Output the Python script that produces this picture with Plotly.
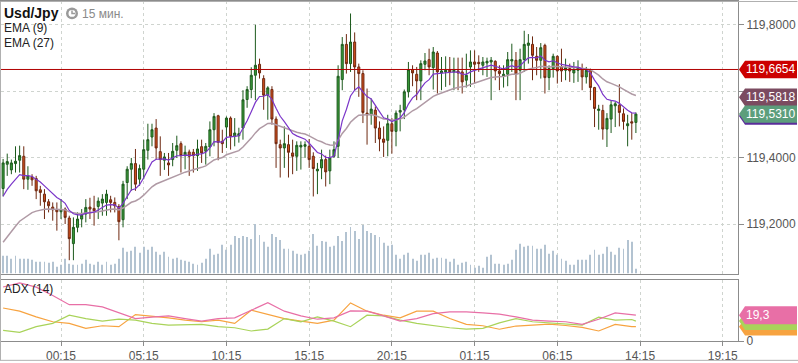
import plotly.graph_objects as go

# ---------------- data ----------------
opens = [119.307,119.380,119.363,119.382,119.392,119.404,119.335,119.342,119.337,119.303,
         119.290,119.267,119.251,119.243,119.237,119.245,119.218,119.141,119.190,119.215,
         119.230,119.251,119.247,119.253,119.263,119.265,119.273,119.265,119.253,119.213,
         119.325,119.365,119.382,119.335,119.365,119.422,119.462,119.489,119.418,119.392,
         119.384,119.394,119.422,119.442,119.406,119.417,119.416,119.406,119.433,119.419,
         119.432,119.484,119.526,119.449,119.492,119.519,119.464,119.466,119.489,119.575,
         119.605,119.648,119.681,119.638,119.588,119.605,119.516,119.439,119.429,119.439,
         119.414,119.404,119.432,119.434,119.434,119.404,119.360,119.369,119.394,119.360,
         119.404,119.434,119.635,119.741,119.683,119.748,119.673,119.653,119.534,119.529,
         119.543,119.489,119.456,119.452,119.502,119.479,119.537,119.544,119.598,119.665,
         119.651,119.631,119.681,119.695,119.671,119.715,119.655,119.658,119.665,119.658,
         119.661,119.658,119.633,119.673,119.688,119.687,119.678,119.685,119.688,119.690,
         119.661,119.645,119.651,119.691,119.693,119.663,119.695,119.738,119.741,119.705,
         119.693,119.738,119.641,119.668,119.705,119.673,119.663,119.668,119.655,119.663,
         119.668,119.643,119.663,119.611,119.542,119.542,119.486,119.516,119.556,119.558,
         119.532,119.496,119.508,119.506]
highs = [119.396,119.412,119.394,119.434,119.436,119.434,119.374,119.350,119.345,119.315,
         119.305,119.275,119.265,119.265,119.275,119.250,119.225,119.220,119.235,119.245,
         119.275,119.279,119.285,119.280,119.290,119.303,119.285,119.280,119.260,119.330,
         119.374,119.399,119.426,119.379,119.454,119.502,119.502,119.516,119.464,119.414,
         119.414,119.444,119.466,119.449,119.436,119.424,119.426,119.454,119.454,119.444,
         119.509,119.534,119.529,119.484,119.524,119.524,119.519,119.490,119.603,119.615,
         119.672,119.800,119.698,119.648,119.615,119.615,119.524,119.454,119.494,119.469,
         119.454,119.449,119.449,119.449,119.456,119.416,119.384,119.424,119.406,119.424,
         119.449,119.678,119.763,119.772,119.834,119.777,119.683,119.663,119.608,119.578,
         119.554,119.509,119.494,119.529,119.519,119.542,119.559,119.605,119.688,119.678,
         119.673,119.693,119.715,119.728,119.733,119.721,119.703,119.705,119.703,119.701,
         119.701,119.701,119.713,119.723,119.723,119.708,119.703,119.701,119.703,119.693,
         119.678,119.678,119.718,119.743,119.718,119.728,119.782,119.772,119.765,119.733,
         119.745,119.743,119.678,119.713,119.708,119.728,119.698,119.683,119.688,119.693,
         119.683,119.673,119.668,119.613,119.559,119.559,119.534,119.573,119.568,119.621,
         119.548,119.529,119.534,119.536]
lows = [119.283,119.345,119.350,119.355,119.355,119.305,119.303,119.315,119.275,119.255,
        119.215,119.235,119.210,119.180,119.215,119.200,119.091,119.091,119.175,119.190,
        119.205,119.215,119.195,119.215,119.225,119.225,119.235,119.235,119.151,119.190,
        119.275,119.300,119.300,119.315,119.335,119.394,119.434,119.394,119.345,119.363,
        119.345,119.374,119.399,119.355,119.365,119.345,119.355,119.360,119.384,119.379,
        119.404,119.434,119.392,119.414,119.429,119.424,119.434,119.445,119.454,119.550,
        119.579,119.573,119.638,119.544,119.514,119.499,119.369,119.340,119.369,119.340,
        119.350,119.360,119.364,119.399,119.369,119.283,119.290,119.335,119.313,119.320,
        119.399,119.399,119.603,119.653,119.658,119.603,119.583,119.504,119.439,119.499,
        119.444,119.419,119.402,119.404,119.412,119.434,119.479,119.516,119.581,119.615,
        119.573,119.573,119.663,119.648,119.605,119.593,119.603,119.613,119.618,119.603,
        119.603,119.593,119.611,119.613,119.623,119.658,119.648,119.643,119.573,119.633,
        119.603,119.611,119.615,119.658,119.573,119.573,119.658,119.683,119.633,119.648,
        119.638,119.593,119.603,119.641,119.623,119.628,119.633,119.628,119.625,119.628,
        119.603,119.623,119.573,119.492,119.484,119.454,119.432,119.474,119.492,119.494,
        119.484,119.434,119.454,119.474]
closes = [119.384,119.388,119.384,119.389,119.406,119.335,119.345,119.333,119.300,119.295,
          119.267,119.255,119.243,119.237,119.243,119.220,119.156,119.190,119.215,119.227,
          119.250,119.245,119.240,119.269,119.275,119.290,119.265,119.255,119.207,119.320,
          119.365,119.382,119.320,119.367,119.424,119.454,119.484,119.429,119.394,119.402,
          119.378,119.419,119.436,119.406,119.416,119.404,119.406,119.426,119.414,119.434,
          119.484,119.524,119.446,119.442,119.519,119.464,119.474,119.472,119.574,119.605,
          119.648,119.678,119.655,119.588,119.610,119.516,119.442,119.429,119.442,119.416,
          119.404,119.437,119.437,119.439,119.394,119.367,119.365,119.394,119.357,119.399,
          119.424,119.645,119.741,119.683,119.748,119.673,119.653,119.536,119.529,119.546,
          119.489,119.456,119.446,119.502,119.479,119.534,119.542,119.598,119.665,119.655,
          119.631,119.683,119.691,119.673,119.718,119.658,119.661,119.663,119.658,119.663,
          119.655,119.628,119.648,119.688,119.681,119.683,119.688,119.690,119.693,119.661,
          119.653,119.651,119.695,119.695,119.651,119.695,119.741,119.745,119.708,119.693,
          119.731,119.641,119.668,119.705,119.661,119.661,119.671,119.661,119.665,119.670,
          119.643,119.663,119.611,119.548,119.546,119.486,119.518,119.559,119.562,119.536,
          119.509,119.502,119.504,119.531]
volumes = [18,18,15,18,15,15,15,14,12,12, 12,11,12,7,9,15,10,9,9,10,
           14,10,9,12,9,12,9,10,15,26, 22,23,27,21,27,24,27,22,19,22,
           17,15,16,14,13,12,10,9,11,15, 25,19,20,29,24,29,38,36,38,37,
           35,50,39,32,27,40,37,34,25,25, 23,20,19,20,23,40,28,33,32,27,
           28,38,33,42,47,43,35,49,43,41, 39,37,31,28,29,19,15,19,21,15,
           13,19,19,21,15,16,16,15,12,15, 9,11,12,9,6,8,6,17,
           19,10,10,9,10,14,24,30,27,28, 28,25,25,29,20,23,19,15,13,9,
           9,14,14,14,19,24,19,20,27,22, 19,26,25,34,32,5]

ema9_start = 119.2835
ema27_start = 119.145

adx_idx = [0,4,8,12,16,20,24,28,32,36,40,44,48,52,56,60,64,68,72,76,
           80,84,88,92,96,100,104,108,112,116,120,124,128,132,136,140,144,148,152,153]
adx_vals = [40.4,43.5,40.3,34.1,27.2,27.2,25.5,21.0,16.8,17.8,18.8,16.8,14.9,16.8,17.3,23.0,28.7,22.3,18.8,16.3,
            17.3,22.5,22.3,18.8,14.9,16.8,20.5,21.8,21.8,21.0,20.1,18.1,15.6,14.9,14.4,12.4,16.3,21.0,19.3,19.3]
pdi_vals = [7.9,6.5,10.7,13.2,19.3,16.8,14.9,16.3,15.6,13.2,11.9,12.4,12.4,10.7,9.9,7.5,8.9,16.8,14.4,18.1,
            14.9,10.7,19.3,18.8,15.6,13.2,11.4,9.9,8.9,9.4,13.6,16.8,14.4,13.6,12.9,11.9,17.8,15.6,16.1,14.9]
mdi_vals = [24.7,22.3,18.1,14.4,13.2,9.4,11.4,10.7,19.8,18.8,17.3,15.6,14.4,15.6,13.2,23.0,20.1,16.8,14.9,13.2,
            15.6,28.5,22.3,19.3,17.3,22.3,22.3,16.8,12.4,11.4,8.8,11.2,11.9,12.6,11.6,10.2,7.5,12.4,10.7,10.7]

tick_idx = [14, 34, 54, 74, 94, 114, 134, 154, 174]
tick_labels = ["00:15", "05:15", "10:15", "15:15", "20:15", "01:15", "06:15", "14:15", "19:15"]
price_ticks = [119.2, 119.4, 119.6, 119.8]
price_tick_text = ["119,2000", "119,4000", "", "119,8000"]

ref_level = 119.6654
tag_close = 119.5310
tag_ema27 = 119.5818
tag_ema9 = 119.5255

# ---------------- derived indicator lines ----------------
idx = list(range(len(closes)))

def ema(values, period, start):
    a = 2.0 / (period + 1)
    out = [start]
    for v in values[1:]:
        out.append(out[-1] + a * (v - out[-1]))
    return out

ema9 = ema(closes, 9, ema9_start)
ema27 = ema(closes, 27, ema27_start)

# ---------------- geometry ----------------
W, H = 798, 363
ML, MR, MT, MB = 1, 60, 0, 20
PW = W - ML - MR
PH = H - MT - MB

def px_x(px):
    return (px - ML) / PW

def px_y(py):
    return (H - MB - py) / PH

FONT = "Liberation Sans, Arial, sans-serif"
GRID = "#cfd4cf"
AXL = "#8c8c8c"

fig = go.Figure()

fig.add_trace(go.Bar(x=idx, y=volumes, width=0.22, marker=dict(color="#b3c3d1", line=dict(width=0)),
                     xaxis="x", yaxis="y3", hoverinfo="skip"))
fig.add_trace(go.Scatter(x=idx, y=ema27, mode="lines", line=dict(color="#b09aa5", width=1.5),
                         xaxis="x", yaxis="y"))
fig.add_trace(go.Scatter(x=idx, y=ema9, mode="lines", line=dict(color="#7b36c9", width=1.2),
                         xaxis="x", yaxis="y"))
fig.add_trace(go.Candlestick(x=idx, open=opens, high=highs, low=lows, close=closes,
                             increasing=dict(line=dict(color="#1d5a1d", width=1), fillcolor="#3a9c3a"),
                             decreasing=dict(line=dict(color="#6e2810", width=1), fillcolor="#d24f1c"),
                             whiskerwidth=0, xaxis="x", yaxis="y"))

fig.add_trace(go.Scatter(x=adx_idx, y=mdi_vals, mode="lines", line=dict(color="#f7a340", width=1.2),
                         xaxis="x2", yaxis="y2"))
fig.add_trace(go.Scatter(x=adx_idx, y=pdi_vals, mode="lines", line=dict(color="#a9d35a", width=1.2),
                         xaxis="x2", yaxis="y2"))
fig.add_trace(go.Scatter(x=adx_idx, y=adx_vals, mode="lines", line=dict(color="#e86fa6", width=1.2),
                         xaxis="x2", yaxis="y2"))

xr = [14 + (ML - 61) / 4.136, 14 + (W - MR - 61) / 4.136]

fig.update_layout(
    width=W, height=H, margin=dict(l=ML, r=MR, t=MT, b=MB),
    paper_bgcolor="white", plot_bgcolor="white", showlegend=False,
    separators=", ", font=dict(family=FONT, size=12, color="#555"),
    xaxis=dict(domain=[0, 1], range=xr, anchor="y", tickvals=tick_idx, ticktext=tick_labels,
               showticklabels=False, showgrid=True, gridcolor=GRID, griddash="dot", gridwidth=1,
               zeroline=False, showline=True, mirror=True, linecolor=AXL, linewidth=1,
               rangeslider=dict(visible=False), fixedrange=True),
    xaxis2=dict(domain=[0, 1], range=xr, anchor="y2", matches="x", tickvals=tick_idx, ticktext=tick_labels,
                showgrid=True, gridcolor=GRID, griddash="dot", gridwidth=1, zeroline=False,
                showline=True, mirror=True, linecolor=AXL, linewidth=1,
                ticks="outside", ticklen=4, tickcolor=AXL, tickfont=dict(size=12, color="#555")),
    yaxis=dict(domain=[px_y(275), px_y(0)], range=[119.8716 - 275 / 335, 119.8716], side="right",
               anchor="x", tickvals=price_ticks, ticktext=price_tick_text,
               showgrid=True, gridcolor=GRID, griddash="dot", gridwidth=1, zeroline=False,
               showline=True, mirror=True, linecolor=AXL, linewidth=1,
               ticks="outside", ticklen=5, tickcolor=AXL, tickfont=dict(size=12, color="#555")),
    yaxis2=dict(domain=[0, px_y(281)], range=[0, 46], side="right", anchor="x2",
                tickvals=[0], ticktext=["0"], showgrid=False, zeroline=False,
                showline=True, mirror=True, linecolor=AXL, linewidth=1,
                ticks="outside", ticklen=5, tickcolor=AXL, tickfont=dict(size=12, color="#555")),
    yaxis3=dict(overlaying="y", range=[0, 275], visible=False, anchor="x"),
)

shapes = []
shapes.append(dict(type="line", xref="paper", yref="y", x0=0, x1=1, y0=ref_level, y1=ref_level,
                   line=dict(color="#b00000", width=1)))

def tag(value, yref, half, color, tip=739, left=745, right=797):
    p = (f"M {px_x(tip)},{value} L {px_x(left)},{value + half} L {px_x(right)},{value + half} "
         f"L {px_x(right)},{value - half} L {px_x(left)},{value - half} Z")
    return dict(type="path", xref="paper", yref=yref, path=p, fillcolor=color,
                line=dict(width=0), layer="above")

hp = 8.8 / 335.0
shapes.append(tag(ref_level, "y", hp, "#cc0000"))
shapes.append(tag(tag_ema27, "y", hp, "#7b4b60"))
shapes.append(tag(tag_ema9, "y", hp, "#5a2d9a"))
shapes.append(tag(tag_close, "y", hp, "#5c9e7c"))

ha = 9.0 / 1.348
shapes.append(tag(mdi_vals[-1], "y2", ha, "#f7a340"))
shapes.append(tag(pdi_vals[-1], "y2", ha, "#a9d35a"))
shapes.append(tag(adx_vals[-1], "y2", ha, "#e86fa6"))

shapes.append(dict(type="circle", xref="paper", yref="paper", x0=px_x(66), x1=px_x(78),
                   y0=px_y(18.5), y1=px_y(6.5), fillcolor="#9a9a9a", line=dict(width=0)))
shapes.append(dict(type="circle", xref="paper", yref="paper", x0=px_x(68.5), x1=px_x(75.5),
                   y0=px_y(16), y1=px_y(9), fillcolor="white", line=dict(width=0)))
shapes.append(dict(type="path", xref="paper", yref="paper",
                   path=f"M {px_x(72)},{px_y(9.5)} L {px_x(72)},{px_y(12.5)} L {px_x(75)},{px_y(12.5)}",
                   line=dict(color="#9a9a9a", width=1.5)))
shapes.append(dict(type="path", xref="paper", yref="paper",
                   path=f"M {px_x(0.5)},{px_y(362.5)} L {px_x(0.5)},{px_y(0.5)} L {px_x(797.5)},{px_y(0.5)}",
                   line=dict(color="#b0b0b0", width=1)))
shapes.append(dict(type="line", xref="paper", yref="paper", x0=px_x(0), x1=px_x(798),
                   y0=px_y(362.5), y1=px_y(362.5), line=dict(color="#b0b0b0", width=1)))
fig.update_layout(shapes=shapes)

ann = []
def txt(x, y, s, size=12, color="#222", bold=False):
    return dict(xref="paper", yref="paper", x=px_x(x), y=px_y(y), xanchor="left", yanchor="middle",
                text=f"<b>{s}</b>" if bold else s, showarrow=False,
                font=dict(family=FONT, size=size, color=color))

ann.append(txt(2, 12.5, "Usd/Jpy", size=14, color="#111", bold=True))
ann.append(txt(80, 13, "15 мин.", size=12, color="#8a8a8a"))
ann.append(txt(2, 27, "EMA (9)", size=12, color="#222"))
ann.append(txt(2, 42, "EMA (27)", size=12, color="#222"))
ann.append(txt(2, 291, "ADX (14)", size=12, color="#222"))

def tag_text(value, yref, s):
    return dict(xref="paper", yref=yref, x=px_x(744), y=value, xanchor="left", yanchor="middle",
                text=s, showarrow=False, font=dict(family=FONT, size=12, color="white"))

def fmt(v, n):
    return f"{v:.{n}f}".replace(".", ",")

ann.append(tag_text(ref_level, "y", fmt(ref_level, 4)))
ann.append(tag_text(tag_ema27, "y", fmt(tag_ema27, 4)))
ann.append(tag_text(tag_close, "y", fmt(tag_close, 4)))
ann.append(tag_text(adx_vals[-1], "y2", fmt(adx_vals[-1], 1)))
fig.update_layout(annotations=ann)

fig.write_html("out.html", config={"displayModeBar": False},
               post_script="document.body.style.margin='0';document.body.style.overflow='hidden';")
